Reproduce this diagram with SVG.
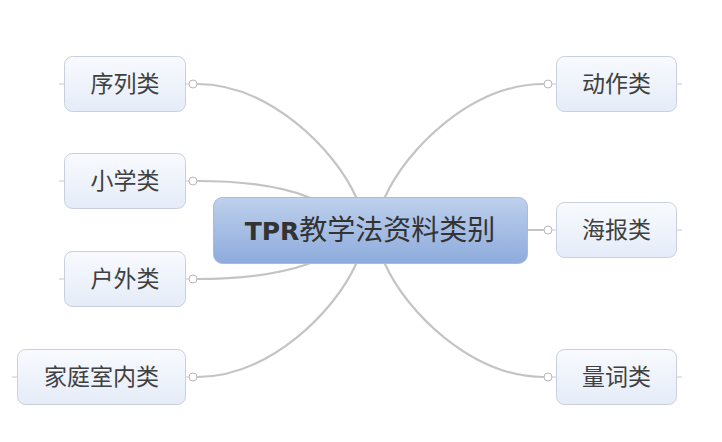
<svg xmlns="http://www.w3.org/2000/svg" width="722" height="442" viewBox="0 0 722 442">
<defs>
<linearGradient id="gMain" x1="0" y1="0" x2="0" y2="1">
<stop offset="0" stop-color="#bed0ec"/>
<stop offset="1" stop-color="#8dabdc"/>
</linearGradient>
<linearGradient id="gSub" x1="0" y1="0" x2="0" y2="1">
<stop offset="0" stop-color="#f8fafe"/>
<stop offset="1" stop-color="#e5ecf8"/>
</linearGradient>
</defs>
<style>
.conn{fill:none;stroke:#c4c4c4;stroke-width:2.2;stroke-linecap:round}
.stub{stroke:#c8c8c8;stroke-width:1}
.dot{fill:#ffffff;stroke:#b8b8b8;stroke-width:1}
.sub{fill:url(#gSub);stroke:#c8d0dd;stroke-width:1}
.subt{font-family:"Noto Sans CJK SC","Noto Sans CJK TC",sans-serif;font-size:23px;fill:#404040;text-anchor:middle}
.main{fill:url(#gMain);stroke:#a7bbdc;stroke-width:1}
.maint{font-family:"Noto Sans CJK SC",sans-serif;font-size:28px;fill:#333333;text-anchor:middle}
</style>
<g id="connectors">
<path class="conn" d="M197,84 C270,84 335,150 356,197 L362,215"/>
<path class="conn" d="M197,181 C250,181 285,188 308,197 L330,210"/>
<path class="conn" d="M197,279 C250,279 285,272 308,264 L330,251"/>
<path class="conn" d="M197,377 C270,377 335,311 356,264 L362,246"/>
<path class="conn" d="M544,84 C471,84 406,150 385,197 L379,215"/>
<path class="conn" d="M528,230 L544,230"/>
<path class="conn" d="M544,377 C471,377 406,311 385,264 L379,246"/>
<line class="stub" x1="59" y1="84" x2="64" y2="84"/>
<line class="stub" x1="59" y1="181" x2="64" y2="181"/>
<line class="stub" x1="59" y1="279" x2="64" y2="279"/>
<line class="stub" x1="12" y1="377" x2="17" y2="377"/>
<line class="stub" x1="677" y1="84" x2="682" y2="84"/>
<line class="stub" x1="677" y1="230" x2="682" y2="230"/>
<line class="stub" x1="677" y1="377" x2="682" y2="377"/>
<line class="stub" x1="186" y1="84" x2="189" y2="84"/>
<line class="stub" x1="186" y1="181" x2="189" y2="181"/>
<line class="stub" x1="186" y1="279" x2="189" y2="279"/>
<line class="stub" x1="186" y1="377" x2="189" y2="377"/>
<line class="stub" x1="552" y1="84" x2="556" y2="84"/>
<line class="stub" x1="552" y1="230" x2="556" y2="230"/>
<line class="stub" x1="552" y1="377" x2="556" y2="377"/>
<circle class="dot" cx="193" cy="84" r="4"/>
<circle class="dot" cx="193" cy="181" r="4"/>
<circle class="dot" cx="193" cy="279" r="4"/>
<circle class="dot" cx="193" cy="377" r="4"/>
<circle class="dot" cx="548" cy="84" r="4"/>
<circle class="dot" cx="548" cy="230" r="4"/>
<circle class="dot" cx="548" cy="377" r="4"/>
</g>
<g id="center">
<rect class="main" x="213.5" y="197.5" width="314" height="66" rx="9"/>
<text class="maint" x="370" y="240"><tspan font-family="DejaVu Sans, sans-serif" font-weight="bold" font-size="25">TPR</tspan>教学法资料类别</text>
</g>
<g id="n-xulie">
<rect class="sub" x="64.5" y="56.5" width="121" height="55" rx="8"/>
<text class="subt" x="125" y="92">序列类</text>
</g>
<g id="n-xiaoxue">
<rect class="sub" x="64.5" y="153.5" width="121" height="55" rx="8"/>
<text class="subt" x="125" y="189">小学类</text>
</g>
<g id="n-huwai">
<rect class="sub" x="64.5" y="251.5" width="121" height="55" rx="8"/>
<text class="subt" x="125" y="287">户外类</text>
</g>
<g id="n-jiating">
<rect class="sub" x="17.5" y="349.5" width="168" height="55" rx="8"/>
<text class="subt" x="101.5" y="385">家庭室内类</text>
</g>
<g id="n-dongzuo">
<rect class="sub" x="556.5" y="56.5" width="120" height="55" rx="8"/>
<text class="subt" x="616.5" y="92">动作类</text>
</g>
<g id="n-haibao">
<rect class="sub" x="556.5" y="202.5" width="120" height="55" rx="8"/>
<text class="subt" x="616.5" y="238">海报类</text>
</g>
<g id="n-liangci">
<rect class="sub" x="556.5" y="349.5" width="120" height="55" rx="8"/>
<text class="subt" x="616.5" y="385">量词类</text>
</g>
</svg>
